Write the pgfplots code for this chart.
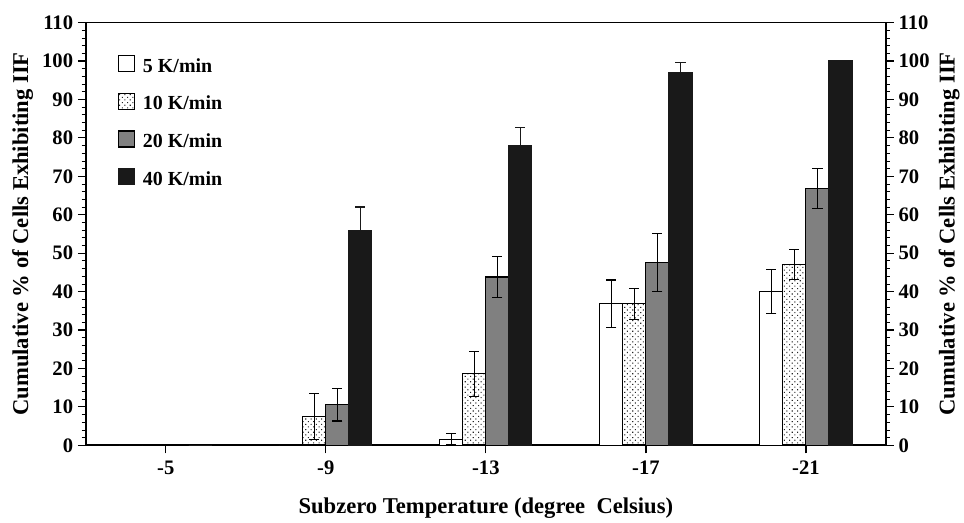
\documentclass[border=0pt]{standalone}
\usepackage{fontspec}
\setmainfont{Liberation Serif}
\usepackage{pgfplots}
\pgfplotsset{compat=1.18}
\usetikzlibrary{patterns}

\pgfdeclarepatternformonly{sparsedots}{\pgfqpoint{-1pt}{-1pt}}{\pgfqpoint{3.5pt}{3.5pt}}{\pgfqpoint{4pt}{4pt}}{%
  \pgfpathrectangle{\pgfqpoint{-0.4pt}{-0.4pt}}{\pgfqpoint{0.8pt}{0.8pt}}%
  \pgfpathrectangle{\pgfqpoint{1.6pt}{1.6pt}}{\pgfqpoint{0.8pt}{0.8pt}}%
  \pgfusepath{fill}}

\pgfplotstableread{
x v5 e5 v10 e10 v20 e20 v40 e40
0 0 0 0 0 0 0 0 0
1 0 0 7.5 6 10.5 4.2 56 6
2 1.6 1.5 18.6 5.8 43.8 5.4 78 4.6
3 36.8 6.2 36.8 4 47.6 7.6 97 2.6
4 40 5.8 47 3.9 66.9 5.2 100 0
}\data

\pgfplotsset{
  base/.style={
    scale only axis, width=602pt, height=318pt,
    xmin=-0.5, xmax=4.5, ymin=0, ymax=110,
    ytick={0,10,...,110}, minor y tick num=4,
    tick align=outside,
    major tick length=6pt, minor tick length=3pt,
    every tick/.style={black, line width=0.9pt},
    minor tick style={line width=0.6pt},
    axis line style={line width=1.3pt},
    font=\bfseries\fontsize{15.5}{18}\selectfont,
    /pgf/number format/assume math mode=true,
    ticklabel style={font=\bfseries\fontsize{15.5}{18}\selectfont},
    label style={font=\bfseries\fontsize{17}{20}\selectfont},
  },
  eb/.style={
    error bars/y dir=both, error bars/y explicit,
    error bars/error bar style={#1, line width=0.9pt},
    error bars/error mark options={#1, line width=0.9pt, mark size=3.8pt, rotate=90},
  },
  eb/.default=black,
}

\begin{document}
\begin{tikzpicture}
\begin{axis}[base, name=main,
  ybar, bar width=0.144,
  xtick={0,1,2,3,4}, xticklabels={-5,-9,-13,-17,-21},
  xtick pos=bottom, ytick pos=left,
  xticklabel style={yshift=-2.5pt},
  xlabel={Subzero Temperature (degree\ \ Celsius)},
  ylabel={Cumulative \% of Cells Exhibiting IIF},
  xlabel style={yshift=-10pt},
  legend cell align=left,
  legend style={draw=none, fill=none, at={(0.035,0.93)}, anchor=north west,
    row sep=12pt, font=\bfseries\fontsize{15}{17}\selectfont,
    /tikz/every odd column/.append style={column sep=4pt}},
  legend image code/.code={\draw[#1, line width=0.8pt] (0pt,-4pt) rectangle (12pt,8pt);},
]
\addplot[draw=black, line width=0.8pt, fill=white, bar shift=-0.216, eb]
  table[x=x, y=v5, y error=e5] {\data};
\addlegendentry{5 K/min}
\addplot[draw=black, line width=0.8pt, pattern=sparsedots, pattern color=black!85, bar shift=-0.072, eb]
  table[x=x, y=v10, y error=e10] {\data};
\addlegendentry{10 K/min}
\addplot[draw=black, line width=0.8pt, fill=black!50, bar shift=0.072, eb]
  table[x=x, y=v20, y error=e20] {\data};
\addlegendentry{20 K/min}
\addplot[draw=black!90, line width=0.8pt, fill=black!90, bar shift=0.216, eb=black!90]
  table[x=x, y=v40, y error=e40] {\data};
\addlegendentry{40 K/min}
\end{axis}
\begin{axis}[base,
  axis x line=none, axis y line*=right,
  ylabel={Cumulative \% of Cells Exhibiting IIF},
]
\addplot[draw=none] coordinates {(0,0)};
\end{axis}
\path (main.north west) ++(-64.5pt,17pt) rectangle ++(0.5pt,-0.5pt);
\end{tikzpicture}
\end{document}
